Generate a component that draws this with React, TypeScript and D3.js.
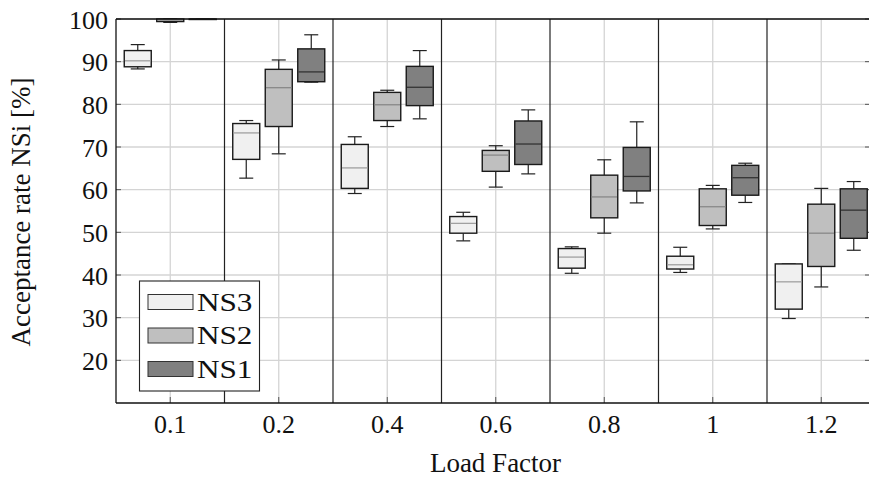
import React from "react";
import * as d3 from "d3";

// categories on the x axis (load factor)
const loadFactors = ["0.1", "0.2", "0.4", "0.6", "0.8", "1", "1.2"];
const seriesNames = ["NS3", "NS2", "NS1"];
const yTicks = [20, 30, 40, 50, 60, 70, 80, 90, 100];

// [min, q1, median, q3, max] per load factor
const ns3 = [
  [88.3, 88.8, 90.2, 92.6, 94.0],
  [62.7, 67.1, 73.3, 75.5, 76.2],
  [59.1, 60.3, 65.1, 70.6, 72.4],
  [48.0, 49.8, 52.1, 53.7, 54.7],
  [40.4, 41.6, 44.2, 46.2, 46.6],
  [40.6, 41.4, 42.4, 44.4, 46.5],
  [29.8, 32.0, 38.4, 42.6, 42.6],
];
const ns2 = [
  [99.2, 99.4, 99.8, 100, 100],
  [68.4, 74.8, 83.9, 88.2, 90.4],
  [74.8, 76.2, 79.9, 82.8, 83.3],
  [60.6, 64.3, 68.1, 69.2, 70.3],
  [49.8, 53.4, 58.3, 63.4, 67.0],
  [50.8, 51.6, 56.0, 60.2, 61.0],
  [37.2, 42.0, 49.8, 56.6, 60.3],
];
const ns1 = [
  [100, 100, 100, 100, 100],
  [85.2, 85.3, 87.6, 93.0, 96.3],
  [76.6, 79.7, 84.0, 88.9, 92.6],
  [63.7, 65.9, 70.7, 76.1, 78.7],
  [56.9, 59.7, 63.1, 69.9, 75.9],
  [57.0, 58.7, 62.8, 65.7, 66.2],
  [45.8, 48.6, 55.2, 60.2, 61.9],
];

const seriesData: Record<string, number[][]> = { NS3: ns3, NS2: ns2, NS1: ns1 };
const fills: Record<string, string> = { NS3: "#f0f0f0", NS2: "#bfbfbf", NS1: "#808080" };
const medianColors: Record<string, string> = { NS3: "#a0a0a0", NS2: "#888888", NS1: "#333333" };

const W = 869;
const H = 479;
const left = 116;
const top = 19;
const bottom = 403;
const rightFrame = 870;
const FONT = "'Liberation Serif', 'Times New Roman', serif";

export default function App() {
  const x = d3.scaleBand().domain(loadFactors).range([left, 875.5]).padding(0);
  const y = d3.scaleLinear().domain([10, 100]).range([bottom, top]);
  const inner = d3.scalePoint().domain(seriesNames).range([-32.5, 32.5]);
  const boxW = 27;
  const capW = 14;
  const bw = x.bandwidth();

  const txt = (tx: number, ty: number, s: string, anchor: string, size = 26, key?: string) => (
    <text key={key} x={tx} y={ty} textAnchor={anchor} fontFamily={FONT} fontSize={size} fill="#111">
      {s}
    </text>
  );

  return (
    <svg width={W} height={H} style={{ position: "absolute", left: 0, top: 0 }}>
      <rect width={W} height={H} fill="#fff" />
      <defs>
        <clipPath id="plot">
          <rect x={left} y={top - 2} width={rightFrame - left} height={bottom - top + 4} />
        </clipPath>
      </defs>
      {/* grid */}
      <g stroke="#d4d4d4" strokeWidth={1.3}>
        {yTicks.map((t) => (
          <line key={"gy" + t} x1={left} x2={rightFrame} y1={y(t)} y2={y(t)} />
        ))}
        {loadFactors.map((c) => (
          <line key={"gx" + c} x1={x(c)! + bw / 2} x2={x(c)! + bw / 2} y1={top} y2={bottom} />
        ))}
      </g>
      {/* group separators */}
      <g stroke="#222" strokeWidth={1.2}>
        {loadFactors.slice(1).map((c) => (
          <line key={"sep" + c} x1={x(c)!} x2={x(c)!} y1={top} y2={bottom} />
        ))}
      </g>
      {/* ticks */}
      <g stroke="#555" strokeWidth={1}>
        {yTicks.map((t) => (
          <React.Fragment key={"t" + t}>
            <line x1={left} x2={left + 5} y1={y(t)} y2={y(t)} />
            <line x1={rightFrame - 5} x2={rightFrame} y1={y(t)} y2={y(t)} />
          </React.Fragment>
        ))}
        {loadFactors.map((c) => (
          <line key={"tx" + c} x1={x(c)! + bw / 2} x2={x(c)! + bw / 2} y1={bottom - 6} y2={bottom} />
        ))}
      </g>
      {/* boxes */}
      <g clipPath="url(#plot)">
        {seriesNames.map((s) =>
          seriesData[s].map((d, i) => {
            const cx = x(loadFactors[i])! + bw / 2 + inner(s)!;
            const [mn, q1, md, q3, mx] = d;
            return (
              <g key={s + i}>
                <line x1={cx} x2={cx} y1={y(q3)} y2={y(mx)} stroke="#222" strokeWidth={1.2} />
                <line x1={cx} x2={cx} y1={y(q1)} y2={y(mn)} stroke="#222" strokeWidth={1.2} />
                <line x1={cx - capW / 2} x2={cx + capW / 2} y1={y(mx)} y2={y(mx)} stroke="#222" strokeWidth={1.2} />
                <line x1={cx - capW / 2} x2={cx + capW / 2} y1={y(mn)} y2={y(mn)} stroke="#222" strokeWidth={1.2} />
                <rect
                  x={cx - boxW / 2}
                  y={y(q3)}
                  width={boxW}
                  height={Math.max(0.5, y(q1) - y(q3))}
                  fill={fills[s]}
                  stroke="#1a1a1a"
                  strokeWidth={1.4}
                />
                <line x1={cx - boxW / 2 + 0.7} x2={cx + boxW / 2 - 0.7} y1={y(md)} y2={y(md)} stroke={medianColors[s]} strokeWidth={1.3} />
              </g>
            );
          })
        )}
      </g>
      {/* frame */}
      <g stroke="#111" strokeWidth={1.3} fill="none">
        <line x1={left} x2={left} y1={top} y2={bottom} />
        <line x1={left} x2={W} y1={bottom} y2={bottom} />
        <line x1={left} x2={W} y1={top} y2={top} />
      </g>
      {/* tick labels */}
      {yTicks.map((t) => txt(108, y(t) + 9.5, String(t), "end", 26, "yl" + t))}
      {loadFactors.map((c) => txt(x(c)! + bw / 2, 432.5, c, "middle", 26, "xl" + c))}
      {txt(495.5, 471.5, "Load Factor", "middle", 27)}
      <text
        transform="translate(30,212) rotate(-90)"
        textAnchor="middle"
        fontFamily={FONT}
        fontSize={27}
        fill="#111"
      >
        Acceptance rate NSi [%]
      </text>
      {/* legend */}
      <g>
        <rect x={139.5} y={281} width={120} height={110} fill="#fff" stroke="#222" strokeWidth={1.1} />
        {seriesNames.map((s, i) => {
          const ly = 302 + i * 33.5;
          return (
            <g key={"lg" + s}>
              <rect x={148} y={ly - 7.5} width={45} height={15} fill={fills[s]} stroke="#333" strokeWidth={1} />
              <text
                transform={`translate(197,${ly + 8.5}) scale(1.2,1)`}
                fontFamily={FONT}
                fontSize={26}
                fill="#111"
              >
                {s}
              </text>
            </g>
          );
        })}
      </g>
    </svg>
  );
}
